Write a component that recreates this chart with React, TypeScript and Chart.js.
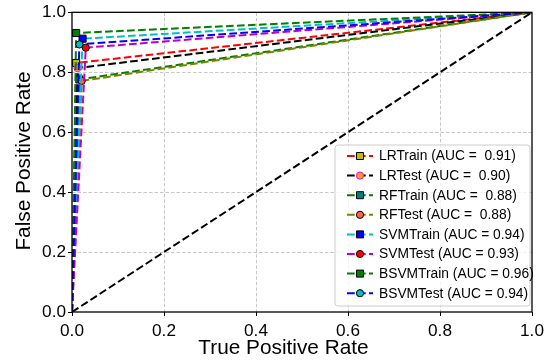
import { useEffect, useRef } from "react";
import { Chart, registerables } from "chart.js";

Chart.register(...registerables);

const seriesNames = ["LRTrain", "LRTest", "RFTrain", "RFTest", "SVMTrain", "SVMTest", "BSVMTrain", "BSVMTest"];
const legendLabels = [
  "LRTrain (AUC =  0.91)",
  "LRTest (AUC =  0.90)",
  "RFTrain (AUC =  0.88)",
  "RFTest (AUC =  0.88)",
  "SVMTrain (AUC = 0.94)",
  "SVMTest (AUC = 0.93)",
  "BSVMTrain (AUC = 0.96)",
  "BSVMTest (AUC = 0.94)",
];
const fprValues = [0.009, 0.012, 0.016, 0.021, 0.023, 0.03, 0.009, 0.016];
const tprValues = [0.831, 0.814, 0.776, 0.771, 0.912, 0.882, 0.931, 0.893];
const lineColors = ["#ff0000", "#000000", "#008000", "#808000", "#00bfbf", "#bf00bf", "#008000", "#0000ff"];
const markerShapes = ["rect", "circle", "rect", "circle", "rect", "circle", "rect", "circle"];
const markerFaces = ["#bfbf00", "#ffa500", "#008080", "#ff6347", "#0000ff", "#ff0000", "#008000", "#00bfbf"];
const markerEdges = ["#000000", "#ff00ff", "#000000", "#000000", "#000000", "#000000", "#000000", "#000000"];
const tickValues = [0, 0.2, 0.4, 0.6, 0.8, 1.0];
const diagonalX = [0, 1];
const diagonalY = [0, 1];
const xTitle = "True Positive Rate";
const yTitle = "False Positive Rate";

const FONT = "'Liberation Sans', Arial, Helvetica, sans-serif";
const DASH = [7.7, 3.3];

function drawMarker(ctx: CanvasRenderingContext2D, shape: string, x: number, y: number, face: string, edge: string) {
  ctx.save();
  ctx.setLineDash([]);
  ctx.fillStyle = face;
  ctx.strokeStyle = edge;
  ctx.lineWidth = 1;
  ctx.beginPath();
  if (shape === "rect") {
    ctx.rect(x - 3.5, y - 3.5, 7, 7);
  } else {
    ctx.arc(x, y, 3.6, 0, Math.PI * 2);
  }
  ctx.fill();
  ctx.stroke();
  ctx.restore();
}

const decorPlugin = {
  id: "mplDecor",
  afterDatasetsDraw(chart: any) {
    const ctx: CanvasRenderingContext2D = chart.ctx;
    const a = chart.chartArea;
    // frame
    ctx.save();
    ctx.strokeStyle = "#000";
    ctx.lineWidth = 1.3;
    ctx.setLineDash([]);
    ctx.strokeRect(a.left, a.top, a.right - a.left, a.bottom - a.top);
    ctx.restore();

    // legend
    const bx = 335, by = 145, bw = 195, bh = 161, r = 3;
    ctx.save();
    ctx.beginPath();
    ctx.moveTo(bx + r, by);
    ctx.lineTo(bx + bw - r, by);
    ctx.quadraticCurveTo(bx + bw, by, bx + bw, by + r);
    ctx.lineTo(bx + bw, by + bh - r);
    ctx.quadraticCurveTo(bx + bw, by + bh, bx + bw - r, by + bh);
    ctx.lineTo(bx + r, by + bh);
    ctx.quadraticCurveTo(bx, by + bh, bx, by + bh - r);
    ctx.lineTo(bx, by + r);
    ctx.quadraticCurveTo(bx, by, bx + r, by);
    ctx.closePath();
    ctx.fillStyle = "rgba(255,255,255,0.8)";
    ctx.fill();
    ctx.strokeStyle = "#cccccc";
    ctx.lineWidth = 1;
    ctx.stroke();
    ctx.restore();

    for (let i = 0; i < legendLabels.length; i++) {
      const y = 156 + i * 19.6;
      ctx.save();
      ctx.strokeStyle = lineColors[i];
      ctx.lineWidth = 2;
      ctx.setLineDash(DASH);
      ctx.beginPath();
      ctx.moveTo(347, y);
      ctx.lineTo(373, y);
      ctx.stroke();
      ctx.restore();
      drawMarker(ctx, markerShapes[i], 360, y, markerFaces[i], markerEdges[i]);
      ctx.save();
      ctx.fillStyle = "#000";
      ctx.font = `13.8px ${FONT}`;
      ctx.textBaseline = "middle";
      ctx.textAlign = "left";
      ctx.fillText(legendLabels[i], 379, y + 0.5);
      ctx.restore();
    }
  },
  afterDraw(chart: any) {
    const ctx: CanvasRenderingContext2D = chart.ctx;
    ctx.save();
    ctx.fillStyle = "#000";
    ctx.font = `20.8px ${FONT}`;
    ctx.textAlign = "center";
    ctx.textBaseline = "alphabetic";
    ctx.fillText(xTitle, 283.5, 354);
    ctx.translate(30, 161);
    ctx.rotate(-Math.PI / 2);
    ctx.fillText(yTitle, 0, 0);
    ctx.restore();
  },
};

export default function App() {
  const canvasRef = useRef<HTMLCanvasElement | null>(null);

  useEffect(() => {
    document.body.style.margin = "0";
    const canvas = canvasRef.current;
    if (!canvas) return;
    Chart.defaults.font.family = FONT;

    const n = seriesNames.length;
    const datasets: any[] = seriesNames.map((name, i) => ({
      label: name,
      data: [
        { x: 0, y: 0 },
        { x: fprValues[i], y: tprValues[i] },
        { x: 1, y: 1 },
      ],
      showLine: true,
      borderColor: lineColors[i],
      borderWidth: 2,
      borderDash: DASH,
      pointRadius: [0, markerShapes[i] === "rect" ? 5 : 3.6, 0],
      pointHoverRadius: 0,
      pointStyle: markerShapes[i],
      pointBackgroundColor: markerFaces[i],
      pointBorderColor: markerEdges[i],
      pointBorderWidth: 1,
      tension: 0,
      fill: false,
      order: n + 1 - i,
    }));
    datasets.push({
      label: "diagonal",
      data: diagonalX.map((x, k) => ({ x, y: diagonalY[k] })),
      showLine: true,
      borderColor: "#000000",
      borderWidth: 2,
      borderDash: DASH,
      pointRadius: 0,
      pointHoverRadius: 0,
      tension: 0,
      fill: false,
      order: 0,
    });

    const gridColor = (c: any) =>
      c.tick && (c.tick.value === 0 || c.tick.value === 1) ? "rgba(0,0,0,0)" : "#b8b8b8";

    const chart = new Chart(canvas, {
      type: "scatter",
      data: { datasets },
      options: {
        animation: false,
        responsive: true,
        maintainAspectRatio: false,
        events: [],
        layout: { padding: { top: 12, right: 27, left: 0, bottom: 0 } },
        plugins: { legend: { display: false }, tooltip: { enabled: false } },
        scales: {
          x: {
            type: "linear",
            min: 0,
            max: 1,
            afterBuildTicks: (s: any) => {
              s.ticks = tickValues.map((v) => ({ value: v }));
            },
            afterFit: (s: any) => {
              s.height = 48;
            },
            ticks: {
              callback: (v: any) => Number(v).toFixed(1),
              font: { size: 17.2, family: FONT },
              color: "#000",
              padding: 5,
              maxRotation: 0,
              autoSkip: false,
            },
            grid: {
              color: gridColor,
              lineWidth: 0.8,
              tickLength: 4,
              tickColor: "#000",
              tickWidth: 1,
            },
            border: { display: false, dash: [3.5, 2] },
          },
          y: {
            type: "linear",
            min: 0,
            max: 1,
            afterBuildTicks: (s: any) => {
              s.ticks = tickValues.map((v) => ({ value: v }));
            },
            afterFit: (s: any) => {
              s.width = 72;
            },
            ticks: {
              callback: (v: any) => Number(v).toFixed(1),
              font: { size: 17.2, family: FONT },
              color: "#000",
              padding: 2,
              autoSkip: false,
            },
            grid: {
              color: gridColor,
              lineWidth: 0.8,
              tickLength: 4,
              tickColor: "#000",
              tickWidth: 1,
            },
            border: { display: false, dash: [3.5, 2] },
          },
        },
      },
      plugins: [decorPlugin],
    });

    return () => {
      chart.destroy();
    };
  }, []);

  return (
    <div style={{ width: 559, height: 360, position: "relative" }}>
      <canvas ref={canvasRef} />
    </div>
  );
}
